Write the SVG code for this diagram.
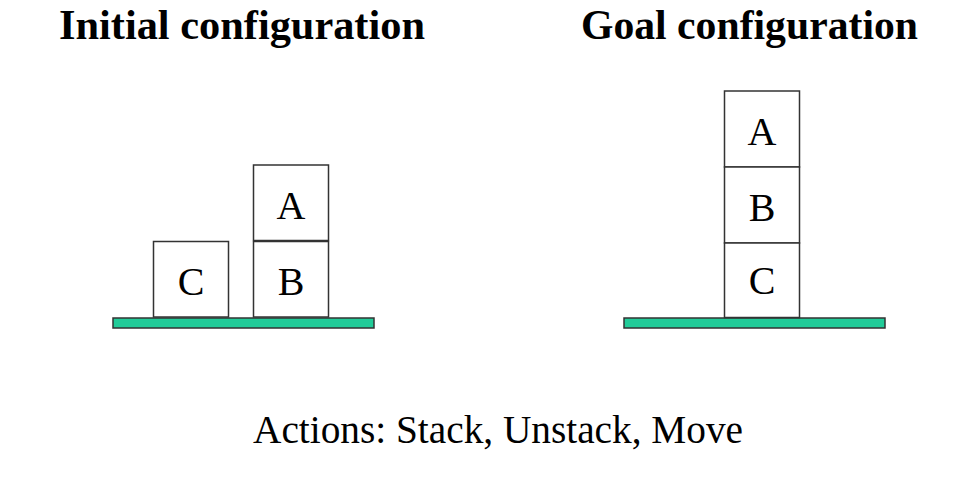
<svg xmlns="http://www.w3.org/2000/svg" width="980" height="494" viewBox="0 0 980 494">
<style>
.title{font-family:"Liberation Serif","Times New Roman",serif;font-weight:bold;font-size:42px;fill:#000}
.lbl{font-family:"Liberation Serif","Times New Roman",serif;font-size:40px;fill:#000;text-anchor:middle}
.box{fill:#fff;stroke:#333;stroke-width:1.5}
.ground{fill:#22CC99;stroke:#333;stroke-width:1.5}
</style>
<rect width="980" height="494" fill="#fff"/>
<text class="title" x="59" y="39" textLength="366" lengthAdjust="spacingAndGlyphs">Initial configuration</text>
<text class="title" x="581" y="39" textLength="337" lengthAdjust="spacingAndGlyphs">Goal configuration</text>
<g id="ground-initial"><rect class="ground" x="113" y="318" width="261" height="10"/></g>
<g id="ground-goal"><rect class="ground" x="624" y="318" width="261" height="10"/></g>
<g id="init-C"><rect class="box" x="153.5" y="241.5" width="75" height="75.5"/><text class="lbl" x="191" y="295">C</text></g>
<g id="init-B"><rect class="box" x="253.5" y="241.5" width="75" height="75.5"/><text class="lbl" x="291" y="295">B</text></g>
<g id="init-A"><rect class="box" x="253.5" y="165" width="75" height="75.5"/><text class="lbl" x="291" y="219">A</text></g>
<g id="goal-A"><rect class="box" x="724.5" y="91" width="75" height="76"/><text class="lbl" x="762" y="145">A</text></g>
<g id="goal-B"><rect class="box" x="724.5" y="167" width="75" height="76"/><text class="lbl" x="762" y="221">B</text></g>
<g id="goal-C"><rect class="box" x="724.5" y="243" width="75" height="74.5"/><text class="lbl" x="762" y="294">C</text></g>
<g id="connectors"></g>
<text class="lbl" x="498" y="443" textLength="490" lengthAdjust="spacingAndGlyphs">Actions: Stack, Unstack, Move</text>
</svg>
